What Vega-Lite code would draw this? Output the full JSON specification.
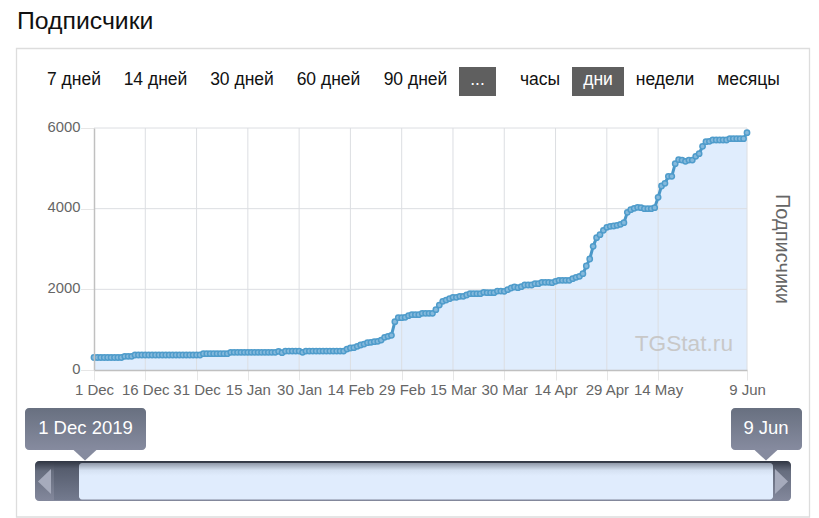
{"$schema":"https://vega.github.io/schema/vega-lite/v6.json","width":819,"height":518,"padding":0,"autosize":{"type":"none"},"background":"#ffffff","config":{"view":{"stroke":null},"font":"Liberation Sans","text":{"font":"Liberation Sans"}},"resolve":{"scale":{"x":"independent","y":"independent"},"axis":{"x":"independent","y":"independent"}},"layer":[
{"data":{"values":[{"part":"рамка"}]},"mark":{"type":"rect","filled":false,"stroke":"#dddddd","strokeWidth":1.3},"encoding":{"x":{"datum":0,"type":"quantitative","scale":{"domain":[0,1],"range":[16.5,809.5]},"axis":null},"x2":{"datum":1},"y":{"datum":0,"type":"quantitative","scale":{"domain":[0,1],"range":[48.5,517]},"axis":null},"y2":{"datum":1}}},
{"data":{"values":[{"label":"Подписчики","row":"заголовок"}]},"mark":{"type":"text","fontSize":24.8,"align":"left","baseline":"middle","color":"#111111"},"encoding":{"text":{"field":"label"},"x":{"field":"label","type":"nominal","scale":{"type":"point","padding":0,"domain":["Подписчики"],"range":[17,17]},"axis":null},"y":{"field":"row","type":"nominal","scale":{"type":"point","padding":0,"domain":["заголовок"],"range":[22,22]},"axis":null}}},
{"data":{"values":[{"part":"..."}]},"mark":{"type":"rect","fill":"#5f5f5f"},"encoding":{"x":{"datum":0,"type":"quantitative","scale":{"domain":[0,1],"range":[459,496]},"axis":null},"x2":{"datum":1},"y":{"datum":0,"type":"quantitative","scale":{"domain":[0,1],"range":[67,96]},"axis":null},"y2":{"datum":1}}},
{"data":{"values":[{"part":"дни"}]},"mark":{"type":"rect","fill":"#5f5f5f"},"encoding":{"x":{"datum":0,"type":"quantitative","scale":{"domain":[0,1],"range":[572,624]},"axis":null},"x2":{"datum":1},"y":{"datum":0,"type":"quantitative","scale":{"domain":[0,1],"range":[67,96]},"axis":null},"y2":{"datum":1}}},
{"data":{"values":[{"label":"7 дней","row":"кнопки"},{"label":"14 дней","row":"кнопки"}]},"mark":{"type":"text","fontSize":17.5,"baseline":"middle","color":"#111111"},"encoding":{"text":{"field":"label"},"x":{"field":"label","type":"nominal","sort":null,"scale":{"type":"point","padding":0,"domain":["7 дней","14 дней"],"range":[74,155.5]},"axis":null},"y":{"field":"row","type":"nominal","scale":{"type":"point","padding":0,"domain":["кнопки"],"range":[80,80]},"axis":null}}},
{"data":{"values":[{"label":"30 дней","row":"кнопки"},{"label":"60 дней","row":"кнопки"}]},"mark":{"type":"text","fontSize":17.5,"baseline":"middle","color":"#111111"},"encoding":{"text":{"field":"label"},"x":{"field":"label","type":"nominal","sort":null,"scale":{"type":"point","padding":0,"domain":["30 дней","60 дней"],"range":[242,328.5]},"axis":null},"y":{"field":"row","type":"nominal","scale":{"type":"point","padding":0,"domain":["кнопки"],"range":[80,80]},"axis":null}}},
{"data":{"values":[{"label":"90 дней","row":"кнопки"},{"label":"часы","row":"кнопки"}]},"mark":{"type":"text","fontSize":17.5,"baseline":"middle","color":"#111111"},"encoding":{"text":{"field":"label"},"x":{"field":"label","type":"nominal","sort":null,"scale":{"type":"point","padding":0,"domain":["90 дней","часы"],"range":[415.5,540]},"axis":null},"y":{"field":"row","type":"nominal","scale":{"type":"point","padding":0,"domain":["кнопки"],"range":[80,80]},"axis":null}}},
{"data":{"values":[{"label":"...","row":"кнопки"},{"label":"дни","row":"кнопки"}]},"mark":{"type":"text","fontSize":17.5,"baseline":"middle","color":"#ffffff"},"encoding":{"text":{"field":"label"},"x":{"field":"label","type":"nominal","sort":null,"scale":{"type":"point","padding":0,"domain":["...","дни"],"range":[477.5,598]},"axis":null},"y":{"field":"row","type":"nominal","scale":{"type":"point","padding":0,"domain":["кнопки"],"range":[80,80]},"axis":null}}},
{"data":{"values":[{"label":"недели","row":"кнопки"},{"label":"месяцы","row":"кнопки"}]},"mark":{"type":"text","fontSize":17.5,"baseline":"middle","color":"#111111"},"encoding":{"text":{"field":"label"},"x":{"field":"label","type":"nominal","sort":null,"scale":{"type":"point","padding":0,"domain":["недели","месяцы"],"range":[665,748.5]},"axis":null},"y":{"field":"row","type":"nominal","scale":{"type":"point","padding":0,"domain":["кнопки"],"range":[80,80]},"axis":null}}},
{"data":{"values":[{"d":"2019-12-01","v":310},{"d":"2019-12-02","v":310},{"d":"2019-12-03","v":310},{"d":"2019-12-04","v":310},{"d":"2019-12-05","v":310},{"d":"2019-12-06","v":310},{"d":"2019-12-07","v":310},{"d":"2019-12-08","v":310},{"d":"2019-12-09","v":310},{"d":"2019-12-10","v":340},{"d":"2019-12-11","v":340},{"d":"2019-12-12","v":340},{"d":"2019-12-13","v":372},{"d":"2019-12-14","v":372},{"d":"2019-12-15","v":372},{"d":"2019-12-16","v":372},{"d":"2019-12-17","v":372},{"d":"2019-12-18","v":372},{"d":"2019-12-19","v":372},{"d":"2019-12-20","v":372},{"d":"2019-12-21","v":372},{"d":"2019-12-22","v":372},{"d":"2019-12-23","v":372},{"d":"2019-12-24","v":372},{"d":"2019-12-25","v":372},{"d":"2019-12-26","v":372},{"d":"2019-12-27","v":372},{"d":"2019-12-28","v":372},{"d":"2019-12-29","v":372},{"d":"2019-12-30","v":372},{"d":"2019-12-31","v":372},{"d":"2020-01-01","v":372},{"d":"2020-01-02","v":405},{"d":"2020-01-03","v":405},{"d":"2020-01-04","v":405},{"d":"2020-01-05","v":405},{"d":"2020-01-06","v":405},{"d":"2020-01-07","v":405},{"d":"2020-01-08","v":405},{"d":"2020-01-09","v":405},{"d":"2020-01-10","v":438},{"d":"2020-01-11","v":438},{"d":"2020-01-12","v":438},{"d":"2020-01-13","v":438},{"d":"2020-01-14","v":438},{"d":"2020-01-15","v":438},{"d":"2020-01-16","v":438},{"d":"2020-01-17","v":438},{"d":"2020-01-18","v":438},{"d":"2020-01-19","v":438},{"d":"2020-01-20","v":438},{"d":"2020-01-21","v":438},{"d":"2020-01-22","v":438},{"d":"2020-01-23","v":438},{"d":"2020-01-24","v":462},{"d":"2020-01-25","v":430},{"d":"2020-01-26","v":470},{"d":"2020-01-27","v":470},{"d":"2020-01-28","v":470},{"d":"2020-01-29","v":470},{"d":"2020-01-30","v":470},{"d":"2020-01-31","v":438},{"d":"2020-02-01","v":470},{"d":"2020-02-02","v":470},{"d":"2020-02-03","v":470},{"d":"2020-02-04","v":470},{"d":"2020-02-05","v":470},{"d":"2020-02-06","v":470},{"d":"2020-02-07","v":470},{"d":"2020-02-08","v":470},{"d":"2020-02-09","v":470},{"d":"2020-02-10","v":470},{"d":"2020-02-11","v":470},{"d":"2020-02-12","v":470},{"d":"2020-02-13","v":520},{"d":"2020-02-14","v":545},{"d":"2020-02-15","v":553},{"d":"2020-02-16","v":586},{"d":"2020-02-17","v":620},{"d":"2020-02-18","v":644},{"d":"2020-02-19","v":677},{"d":"2020-02-20","v":685},{"d":"2020-02-21","v":702},{"d":"2020-02-22","v":710},{"d":"2020-02-23","v":743},{"d":"2020-02-24","v":810},{"d":"2020-02-25","v":834},{"d":"2020-02-26","v":859},{"d":"2020-02-27","v":1198},{"d":"2020-02-28","v":1297},{"d":"2020-02-29","v":1297},{"d":"2020-03-01","v":1305},{"d":"2020-03-02","v":1346},{"d":"2020-03-03","v":1371},{"d":"2020-03-04","v":1371},{"d":"2020-03-05","v":1371},{"d":"2020-03-06","v":1404},{"d":"2020-03-07","v":1404},{"d":"2020-03-08","v":1404},{"d":"2020-03-09","v":1404},{"d":"2020-03-10","v":1496},{"d":"2020-03-11","v":1611},{"d":"2020-03-12","v":1702},{"d":"2020-03-13","v":1735},{"d":"2020-03-14","v":1768},{"d":"2020-03-15","v":1801},{"d":"2020-03-16","v":1801},{"d":"2020-03-17","v":1826},{"d":"2020-03-18","v":1826},{"d":"2020-03-19","v":1859},{"d":"2020-03-20","v":1892},{"d":"2020-03-21","v":1892},{"d":"2020-03-22","v":1892},{"d":"2020-03-23","v":1892},{"d":"2020-03-24","v":1925},{"d":"2020-03-25","v":1917},{"d":"2020-03-26","v":1917},{"d":"2020-03-27","v":1917},{"d":"2020-03-28","v":1958},{"d":"2020-03-29","v":1958},{"d":"2020-03-30","v":1950},{"d":"2020-03-31","v":1991},{"d":"2020-04-01","v":2033},{"d":"2020-04-02","v":2058},{"d":"2020-04-03","v":2041},{"d":"2020-04-04","v":2066},{"d":"2020-04-05","v":2107},{"d":"2020-04-06","v":2107},{"d":"2020-04-07","v":2107},{"d":"2020-04-08","v":2140},{"d":"2020-04-09","v":2140},{"d":"2020-04-10","v":2173},{"d":"2020-04-11","v":2173},{"d":"2020-04-12","v":2173},{"d":"2020-04-13","v":2165},{"d":"2020-04-14","v":2198},{"d":"2020-04-15","v":2223},{"d":"2020-04-16","v":2223},{"d":"2020-04-17","v":2223},{"d":"2020-04-18","v":2223},{"d":"2020-04-19","v":2264},{"d":"2020-04-20","v":2297},{"d":"2020-04-21","v":2322},{"d":"2020-04-22","v":2388},{"d":"2020-04-23","v":2578},{"d":"2020-04-24","v":2752},{"d":"2020-04-25","v":3066},{"d":"2020-04-26","v":3281},{"d":"2020-04-27","v":3355},{"d":"2020-04-28","v":3463},{"d":"2020-04-29","v":3537},{"d":"2020-04-30","v":3562},{"d":"2020-05-01","v":3570},{"d":"2020-05-02","v":3587},{"d":"2020-05-03","v":3611},{"d":"2020-05-04","v":3653},{"d":"2020-05-05","v":3909},{"d":"2020-05-06","v":3975},{"d":"2020-05-07","v":4008},{"d":"2020-05-08","v":4033},{"d":"2020-05-09","v":4025},{"d":"2020-05-10","v":4000},{"d":"2020-05-11","v":4000},{"d":"2020-05-12","v":4000},{"d":"2020-05-13","v":4025},{"d":"2020-05-14","v":4281},{"d":"2020-05-15","v":4562},{"d":"2020-05-16","v":4628},{"d":"2020-05-17","v":4801},{"d":"2020-05-18","v":4801},{"d":"2020-05-19","v":5115},{"d":"2020-05-20","v":5215},{"d":"2020-05-21","v":5206},{"d":"2020-05-22","v":5173},{"d":"2020-05-23","v":5206},{"d":"2020-05-24","v":5206},{"d":"2020-05-25","v":5297},{"d":"2020-05-26","v":5363},{"d":"2020-05-27","v":5545},{"d":"2020-05-28","v":5661},{"d":"2020-05-29","v":5669},{"d":"2020-05-30","v":5702},{"d":"2020-05-31","v":5702},{"d":"2020-06-01","v":5702},{"d":"2020-06-02","v":5702},{"d":"2020-06-03","v":5702},{"d":"2020-06-04","v":5735},{"d":"2020-06-05","v":5735},{"d":"2020-06-06","v":5735},{"d":"2020-06-07","v":5735},{"d":"2020-06-08","v":5735},{"d":"2020-06-09","v":5884}]},
"encoding":{"x":{"field":"d","type":"temporal","title":null,"scale":{"type":"utc","domain":["2019-12-01","2020-06-09"],"range":[94,747]},"axis":{"orient":"bottom","offset":-148,"grid":false,"zindex":1,"labelExpr":"utcFormat(datum.value,'%-d %b')","values":[{"year":2019,"month":"dec","date":1,"utc":true},{"year":2019,"month":"dec","date":16,"utc":true},{"year":2019,"month":"dec","date":31,"utc":true},{"year":2020,"month":"jan","date":15,"utc":true},{"year":2020,"month":"jan","date":30,"utc":true},{"year":2020,"month":"feb","date":14,"utc":true},{"year":2020,"month":"feb","date":29,"utc":true},{"year":2020,"month":"mar","date":15,"utc":true},{"year":2020,"month":"mar","date":30,"utc":true},{"year":2020,"month":"apr","date":14,"utc":true},{"year":2020,"month":"apr","date":29,"utc":true},{"year":2020,"month":"may","date":14,"utc":true},{"year":2020,"month":"jun","date":9,"utc":true}],"labelOverlap":false,"labelFlush":false,"labelBound":false,"labelAngle":0,"labelAlign":"center","labelFontSize":15,"labelColor":"#666666","labelFont":"Liberation Sans","labelPadding":2,"tickSize":10,"tickColor":"#e6e6e6","domainColor":"#c0c0c0","domainWidth":1.5}},"y":{"field":"v","type":"quantitative","title":null,"scale":{"domain":[0,6000],"nice":false,"range":[370,128]},"axis":{"orient":"left","offset":-94,"grid":false,"zindex":1,"values":[0,2000,4000,6000],"format":"d","labelFontSize":14.8,"labelColor":"#666666","labelFont":"Liberation Sans","labelPadding":0.5,"labelOffset":-1,"tickSize":13.5,"tickColor":"#e6e6e6","domainColor":"#c0c0c0","domainWidth":1.5}}},
"layer":[
{"mark":{"type":"area","fill":"#e0edfd","line":false,"interpolate":"linear"}},
{"data":{"values":[{"d":"2019-12-16","lo":0,"hi":6000},{"d":"2019-12-31","lo":0,"hi":6000},{"d":"2020-01-15","lo":0,"hi":6000},{"d":"2020-01-30","lo":0,"hi":6000},{"d":"2020-02-14","lo":0,"hi":6000},{"d":"2020-02-29","lo":0,"hi":6000},{"d":"2020-03-15","lo":0,"hi":6000},{"d":"2020-03-30","lo":0,"hi":6000},{"d":"2020-04-14","lo":0,"hi":6000},{"d":"2020-04-29","lo":0,"hi":6000},{"d":"2020-05-14","lo":0,"hi":6000},{"d":"2020-06-09","lo":0,"hi":6000}]},"mark":{"type":"rule","color":"#dcdee2","strokeWidth":1},"encoding":{"y":{"field":"lo","type":"quantitative"},"y2":{"field":"hi"}}},
{"data":{"values":[{"v":2000,"a":"2019-12-01","b":"2020-06-09"},{"v":4000,"a":"2019-12-01","b":"2020-06-09"},{"v":6000,"a":"2019-12-01","b":"2020-06-09"}]},"mark":{"type":"rule","color":"#dcdee2","strokeWidth":1},"encoding":{"x":{"field":"a","type":"temporal"},"x2":{"field":"b"}}},
{"mark":{"type":"line","stroke":"#4a97c7","strokeWidth":3,"interpolate":"linear"}},
{"mark":{"type":"point","shape":"circle","filled":true,"fill":"#85b9dc","stroke":"#4f9ccb","strokeWidth":1.5,"size":28,"opacity":1}}
]},
{"data":{"values":[{"label":"TGStat.ru","row":"знак"}]},"mark":{"type":"text","fontSize":22.7,"align":"right","baseline":"middle","color":"#c8c8c8"},"encoding":{"text":{"field":"label"},"x":{"field":"label","type":"nominal","scale":{"type":"point","padding":0,"domain":["TGStat.ru"],"range":[733,733]},"axis":null},"y":{"field":"row","type":"nominal","scale":{"type":"point","padding":0,"domain":["знак"],"range":[344,344]},"axis":null}}},
{"data":{"values":[{"label":"Подписчики","row":"ось"}]},"mark":{"type":"text","fontSize":20,"angle":90,"baseline":"middle","color":"#666666"},"encoding":{"text":{"field":"label"},"x":{"field":"label","type":"nominal","scale":{"type":"point","padding":0,"domain":["Подписчики"],"range":[782,782]},"axis":null},"y":{"field":"row","type":"nominal","scale":{"type":"point","padding":0,"domain":["ось"],"range":[249,249]},"axis":null}}},
{"data":{"values":[{"part":"дорожка"}]},"mark":{"type":"rect","cornerRadius":4,"fill":{"gradient":"linear","x1":0,"y1":0,"x2":0,"y2":1,"stops":[{"offset":0,"color":"#2f3542"},{"offset":0.25,"color":"#666d7e"},{"offset":1,"color":"#83889c"}]}},"encoding":{"x":{"datum":0,"type":"quantitative","scale":{"domain":[0,1],"range":[35,791]},"axis":null},"x2":{"datum":1},"y":{"datum":0,"type":"quantitative","scale":{"domain":[0,1],"range":[461,501]},"axis":null},"y2":{"datum":1}}},
{"data":{"values":[{"part":"левая тень"}]},"mark":{"type":"rect","fill":{"gradient":"linear","x1":0,"y1":0,"x2":0,"y2":1,"stops":[{"offset":0,"color":"#2f3542"},{"offset":0.2,"color":"#565d6e"},{"offset":1,"color":"#737a8e"}]}},"encoding":{"x":{"datum":0,"type":"quantitative","scale":{"domain":[0,1],"range":[54,80]},"axis":null},"x2":{"datum":1},"y":{"datum":0,"type":"quantitative","scale":{"domain":[0,1],"range":[461,500]},"axis":null},"y2":{"datum":1}}},
{"data":{"values":[{"part":"окно"}]},"mark":{"type":"rect","cornerRadius":3,"fill":{"gradient":"linear","x1":0,"y1":0,"x2":0,"y2":1,"stops":[{"offset":0,"color":"#8f98a8"},{"offset":0.2,"color":"#d5e1f2"},{"offset":0.35,"color":"#e0ecfd"},{"offset":1,"color":"#e0ecfd"}]}},"encoding":{"x":{"datum":0,"type":"quantitative","scale":{"domain":[0,1],"range":[79,773]},"axis":null},"x2":{"datum":1},"y":{"datum":0,"type":"quantitative","scale":{"domain":[0,1],"range":[463,499.5]},"axis":null},"y2":{"datum":1}}},
{"data":{"values":[{"part":"левая стрелка","row":"стрелки"}]},"mark":{"type":"point","shape":"M0.52,-1L0.52,1L-0.52,0Z","filled":true,"fill":"#a6abbc","size":625,"opacity":1,"strokeWidth":0},"encoding":{"x":{"field":"part","type":"nominal","scale":{"type":"point","padding":0,"domain":["левая стрелка"],"range":[44.5,44.5]},"axis":null},"y":{"field":"row","type":"nominal","scale":{"type":"point","padding":0,"domain":["стрелки"],"range":[481.5,481.5]},"axis":null}}},
{"data":{"values":[{"part":"правая стрелка","row":"стрелки"}]},"mark":{"type":"point","shape":"M-0.52,-1L-0.52,1L0.52,0Z","filled":true,"fill":"#a6abbc","size":625,"opacity":1,"strokeWidth":0},"encoding":{"x":{"field":"part","type":"nominal","scale":{"type":"point","padding":0,"domain":["правая стрелка"],"range":[781.5,781.5]},"axis":null},"y":{"field":"row","type":"nominal","scale":{"type":"point","padding":0,"domain":["стрелки"],"range":[481.5,481.5]},"axis":null}}},
{"data":{"values":[{"part":"начало","row":"флаги"}]},"mark":{"type":"point","shape":"M-1,-0.46L1,-0.46L0,0.46Z","filled":true,"fill":"#868b9f","size":576,"opacity":1,"strokeWidth":0},"encoding":{"x":{"field":"part","type":"nominal","scale":{"type":"point","padding":0,"domain":["начало"],"range":[85,85]},"axis":null},"y":{"field":"row","type":"nominal","scale":{"type":"point","padding":0,"domain":["флаги"],"range":[455,455]},"axis":null}}},
{"data":{"values":[{"part":"конец","row":"флаги"}]},"mark":{"type":"point","shape":"M-1,-0.46L1,-0.46L0,0.46Z","filled":true,"fill":"#868b9f","size":576,"opacity":1,"strokeWidth":0},"encoding":{"x":{"field":"part","type":"nominal","scale":{"type":"point","padding":0,"domain":["конец"],"range":[766,766]},"axis":null},"y":{"field":"row","type":"nominal","scale":{"type":"point","padding":0,"domain":["флаги"],"range":[455,455]},"axis":null}}},
{"data":{"values":[{"part":"начало"}]},"mark":{"type":"rect","cornerRadius":4,"fill":{"gradient":"linear","x1":0,"y1":0,"x2":0,"y2":1,"stops":[{"offset":0,"color":"#687080"},{"offset":1,"color":"#868b9f"}]}},"encoding":{"x":{"datum":0,"type":"quantitative","scale":{"domain":[0,1],"range":[25,146]},"axis":null},"x2":{"datum":1},"y":{"datum":0,"type":"quantitative","scale":{"domain":[0,1],"range":[408,450]},"axis":null},"y2":{"datum":1}}},
{"data":{"values":[{"part":"конец"}]},"mark":{"type":"rect","cornerRadius":4,"fill":{"gradient":"linear","x1":0,"y1":0,"x2":0,"y2":1,"stops":[{"offset":0,"color":"#687080"},{"offset":1,"color":"#868b9f"}]}},"encoding":{"x":{"datum":0,"type":"quantitative","scale":{"domain":[0,1],"range":[731,802]},"axis":null},"x2":{"datum":1},"y":{"datum":0,"type":"quantitative","scale":{"domain":[0,1],"range":[408,450]},"axis":null},"y2":{"datum":1}}},
{"data":{"values":[{"label":"1 Dec 2019","row":"флаги"},{"label":"9 Jun","row":"флаги"}]},"mark":{"type":"text","fontSize":18.5,"baseline":"middle","color":"#ffffff"},"encoding":{"text":{"field":"label"},"x":{"field":"label","type":"nominal","sort":null,"scale":{"type":"point","padding":0,"domain":["1 Dec 2019","9 Jun"],"range":[85.5,766]},"axis":null},"y":{"field":"row","type":"nominal","scale":{"type":"point","padding":0,"domain":["флаги"],"range":[428,428]},"axis":null}}}
]}
